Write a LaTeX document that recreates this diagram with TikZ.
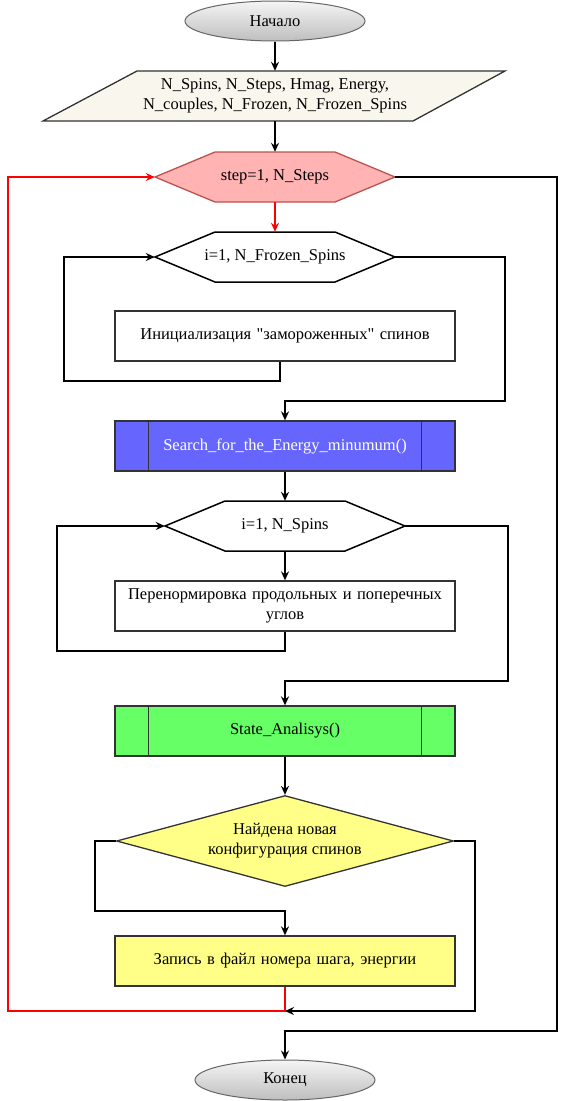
\documentclass[tikz,border=0pt]{standalone}
\usepackage{fontspec}
\setmainfont{Liberation Serif}[Ligatures=TeXOff]
\usetikzlibrary{positioning,arrows.meta,shapes.geometric,calc}
\definecolor{termtop}{RGB}{245,245,245}
\definecolor{termbottom}{RGB}{190,190,190}
\definecolor{termline}{RGB}{102,102,102}
\definecolor{inputfill}{RGB}{249,247,237}
\definecolor{steppink}{RGB}{255,179,179}
\definecolor{stepline}{RGB}{184,84,80}
\definecolor{searchblue}{RGB}{102,102,255}
\definecolor{stategreen}{RGB}{102,255,102}
\definecolor{choiceyellow}{RGB}{255,255,136}
\definecolor{boxline}{RGB}{51,51,51}
\definecolor{backred}{RGB}{255,0,0}

\tikzset{
  terminal/.style={ellipse, draw=termline, line width=1pt, top color=termtop, bottom color=termbottom,
    minimum width=180pt, minimum height=40pt, inner sep=0pt},
  procbox/.style={rectangle, draw=boxline, line width=1.3pt, minimum width=340pt, minimum height=50pt,
    align=center, inner sep=2pt, text width=332pt},
  choice/.style={diamond, draw=boxline, line width=1.3pt, fill=choiceyellow, aspect=3.7,
    minimum width=337pt, minimum height=91pt, inner sep=0pt, align=center},
  anchorbox/.style={rectangle, minimum width=240pt, minimum height=50pt, inner sep=0pt, align=center},
  link/.style={-{Stealth[length=9pt,width=8pt,inset=3pt]}, line width=1.6pt},
  backlink/.style={link, backred}
}

% hexagon of a loop: name, x, y, style, text
\newcommand{\loophex}[5]{%
  \filldraw[#4] (#2-120,#3) -- (#2-60,#3-25) -- (#2+60,#3-25) -- (#2+120,#3)
    -- (#2+60,#3+25) -- (#2-60,#3+25) -- cycle;
  \node[anchorbox] (#1) at (#2,#3) {#5};
}

\begin{document}
\begin{tikzpicture}[x=1pt, y=-1pt, font=\fontsize{16.5}{20}\selectfont]
    \useasboundingbox (0,0) rectangle (568,1101);

    % START
    \node[terminal] (start) at (275,21) {Начало};

    % INPUT DATA
    \filldraw[fill=inputfill, draw=boxline, line width=1.3pt] (43,121) -- (137,71) -- (505,71) -- (413,121) -- cycle;
    \node[anchorbox, minimum height=50pt, align=center] (params) at (275,96)
        {N\_Spins, N\_Steps, Hmag, Energy,\\N\_couples, N\_Frozen, N\_Frozen\_Spins};

    % LOOPS
    \loophex{step}{275}{177}{fill=steppink, draw=stepline, line width=1.3pt}{step=1, N\_Steps}
    \loophex{frozen}{275}{257}{fill=white, draw=black, line width=1.5pt}{i=1, N\_Frozen\_Spins}

    \node[procbox] (init) at (285,336) {Инициализация "замороженных" спинов};

    % SUBPROGRAM 1
    \node[procbox, fill=searchblue, text=white] (search) at (285,446) {Search\_for\_the\_Energy\_minumum()};
    \draw[boxline, line width=1.3pt] ([xshift=34pt]search.north west) -- ([xshift=34pt]search.south west);
    \draw[boxline, line width=1.3pt] ([xshift=-34pt]search.north east) -- ([xshift=-34pt]search.south east);

    \loophex{spins}{285}{526}{fill=white, draw=black, line width=1.5pt}{i=1, N\_Spins}

    \node[procbox] (renorm) at (285,606) {Перенормировка продольных и поперечных\\углов};

    % SUBPROGRAM 2
    \node[procbox, fill=stategreen] (state) at (285,731) {State\_Analisys()};
    \draw[boxline, line width=1.3pt] ([xshift=34pt]state.north west) -- ([xshift=34pt]state.south west);
    \draw[boxline, line width=1.3pt] ([xshift=-34pt]state.north east) -- ([xshift=-34pt]state.south east);

    % CONDITION
    \node[choice] (found) at (285,841) {Найдена новая\\конфигурация спинов};
    \node[procbox, fill=choiceyellow] (record) at (285,961) {Запись в файл номера шага, энергии};

    % END
    \node[terminal] (finish) at (285,1080) {Конец};
    \coordinate (merge) at (285,1011);

    % CONNECTORS
    \draw[link] (start) -- (params.north);
    \draw[link] (params.south) -- (step.north);
    \draw[backlink] (step.south) -- (frozen.north);
    \draw[link] ([xshift=-5pt]init.south) |- (64,381) |- (frozen.west);
    \draw[link] (frozen.east) -| (505,401) -| (search.north);
    \draw[link] (search) -- (spins.north);
    \draw[link] (spins.south) -- (renorm);
    \draw[link] (renorm.south) |- (57,651) |- (spins.west);
    \draw[link] (spins.east) -| (508,681) -| (state.north);
    \draw[link] (state) -- (found);
    \draw[link] (found.west) -| (95,911) -| (record.north);
    \draw[link] (found.east) -| (475,1011) -- (merge);
    \draw[backlink] (record.south) |- (8,1011) |- (step.west);
    \draw[link] (step.east) -| (557,1031) -| (finish.north);

\end{tikzpicture}
\end{document}
